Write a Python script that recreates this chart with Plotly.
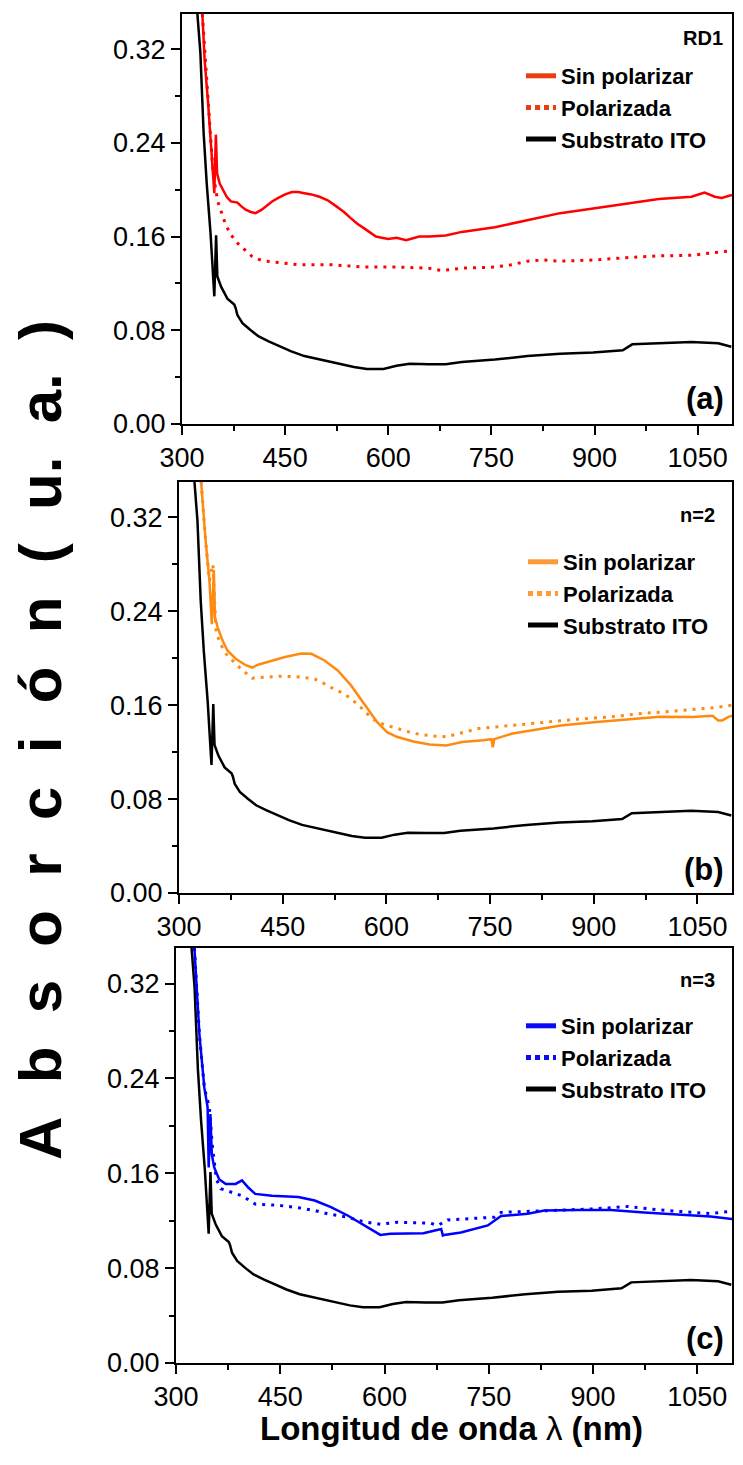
import plotly.graph_objects as go

# ---------------- data ----------------
# ITO substrate (same curve in the three panels)
ito_x = [322.4, 326.7, 331.5, 336, 341.5, 344, 347, 349.6, 351.4, 357, 366, 376, 378, 380.6, 388, 400,
         411.6, 426, 442.6, 459, 478, 502, 526, 550, 569, 593, 612, 631, 659, 683.5, 707, 755, 802.5,
         850, 898, 941, 955, 993.6, 1041, 1080, 1099]
ito_y = [0.35, 0.317, 0.248, 0.205, 0.163, 0.134, 0.109, 0.161, 0.126, 0.117, 0.107, 0.102, 0.099, 0.093,
         0.086, 0.080, 0.0747, 0.0705, 0.066, 0.062, 0.058, 0.055, 0.0514, 0.0486, 0.047, 0.047, 0.0497,
         0.0514, 0.051, 0.051, 0.053, 0.055, 0.058, 0.060, 0.061, 0.063, 0.068, 0.069, 0.070, 0.069, 0.066]

# (a) RD1
rd1_sin_x = [329.6, 333, 337.7, 341, 345, 347, 349.3, 351, 355, 359, 365, 371, 380.6, 386, 392.5, 400, 407,
             416, 425, 431, 440, 450, 460, 469, 478, 488, 500, 512, 524, 535.6, 545, 555, 565, 574, 582,
             590.5, 600, 612, 626, 645, 660, 683.5, 707, 755, 802.5, 850, 898, 946, 993.6, 1041, 1060,
             1075, 1085, 1100]
rd1_sin_y = [0.35, 0.31, 0.276, 0.245, 0.21, 0.197, 0.247, 0.214, 0.205, 0.200, 0.194, 0.190, 0.189, 0.186,
             0.183, 0.181, 0.180, 0.183, 0.187, 0.190, 0.193, 0.196, 0.198, 0.198, 0.197, 0.196, 0.194,
             0.191, 0.186, 0.181, 0.176, 0.171, 0.167, 0.163, 0.160, 0.159, 0.158, 0.159, 0.157, 0.160,
             0.160, 0.161, 0.164, 0.168, 0.174, 0.180, 0.184, 0.188, 0.192, 0.194, 0.1975, 0.194, 0.193,
             0.1955]
rd1_pol_x = [329.6, 337.7, 345, 352, 354.4, 359, 363, 369.6, 378, 385, 391, 402, 416, 435.5, 469, 516.6,
             564, 612, 659, 678, 707, 755, 780, 802.5, 826, 850, 898, 946, 993.6, 1041, 1099]
rd1_pol_y = [0.35, 0.276, 0.215, 0.19, 0.186, 0.178, 0.171, 0.163, 0.156, 0.152, 0.149, 0.143, 0.1395,
             0.138, 0.136, 0.136, 0.134, 0.134, 0.133, 0.131, 0.133, 0.134, 0.136, 0.139, 0.140, 0.139,
             0.140, 0.142, 0.1435, 0.144, 0.148]

# (b) n=2
n2_sin_x = [332, 338.5, 344, 347.5, 350.4, 352, 356, 363, 370, 382, 396.5, 406, 415.5, 434.5, 453.5, 477,
            491.5, 510.6, 529.6, 548.6, 567.6, 586.7, 601, 615, 639, 662.7, 686.5, 709.5, 740, 752, 754,
            756, 781, 805, 852.5, 900, 948, 995.6, 1043, 1072, 1080, 1086, 1095, 1100]
n2_sin_y = [0.35, 0.300, 0.266, 0.229, 0.275, 0.235, 0.226, 0.215, 0.2065, 0.1995, 0.194, 0.192, 0.1946,
            0.198, 0.201, 0.204, 0.2037, 0.198, 0.1895, 0.177, 0.161, 0.1455, 0.137, 0.133, 0.129, 0.1265,
            0.1257, 0.1285, 0.130, 0.131, 0.124, 0.131, 0.1356, 0.138, 0.1427, 0.1455, 0.148, 0.150,
            0.1498, 0.151, 0.147, 0.147, 0.150, 0.151]
n2_pol_x = [332, 338.5, 344, 349, 351, 353.7, 360, 368, 377.5, 392, 406, 425, 449, 472.6, 496, 508, 520,
            539, 558, 572.4, 586.7, 601, 615, 639, 662.7, 686.5, 733, 781, 828.7, 876, 924, 972, 1019,
            1076.7, 1100]
n2_pol_y = [0.35, 0.300, 0.266, 0.28, 0.255, 0.222, 0.212, 0.2037, 0.198, 0.1895, 0.183, 0.184, 0.1847,
            0.184, 0.1824, 0.179, 0.175, 0.1697, 0.161, 0.1526, 0.1455, 0.1427, 0.140, 0.136, 0.134,
            0.133, 0.140, 0.1427, 0.1455, 0.148, 0.150, 0.153, 0.155, 0.158, 0.160]

# (c) n=3
n3_sin_x = [326.5, 333.7, 340.8, 345.5, 347, 349.5, 351.5, 355, 362, 371.6, 385.8, 395, 404, 414, 438, 476,
            499.6, 523, 547, 570.7, 594, 608.6, 627.5, 656, 681.6, 684, 686, 710, 748.6, 758, 767.7, 806,
            830, 878, 925.6, 973.5, 1021, 1069, 1100]
n3_sin_y = [0.35, 0.277, 0.232, 0.2156, 0.165, 0.21, 0.176, 0.165, 0.155, 0.151, 0.151, 0.154, 0.148,
            0.1426, 0.141, 0.140, 0.137, 0.1314, 0.1244, 0.116, 0.108, 0.109, 0.109, 0.1095, 0.113, 0.1075,
            0.108, 0.110, 0.116, 0.120, 0.124, 0.1258, 0.1286, 0.129, 0.129, 0.127, 0.125, 0.1235, 0.1215]
n3_pol_x = [326.5, 333.7, 340.8, 348, 352, 358, 364.5, 381, 395, 414, 447, 476, 499.6, 518.5, 547, 570.7,
            594, 618, 665.5, 676.8, 691, 730, 758, 767.7, 830, 901.7, 949.6, 997, 1069, 1100]
n3_pol_y = [0.35, 0.277, 0.232, 0.2156, 0.185, 0.155, 0.147, 0.144, 0.141, 0.134, 0.133, 0.131, 0.1286,
            0.1258, 0.123, 0.119, 0.117, 0.1187, 0.118, 0.116, 0.1207, 0.122, 0.123, 0.127, 0.1286, 0.130,
            0.132, 0.129, 0.126, 0.128]

panel_tags = ["RD1", "n=2", "n=3"]
panel_letters = ["(a)", "(b)", "(c)"]
legend_names = ["Sin polarizar", "Polarizada", "Substrato ITO"]
x_ticks = [300, 450, 600, 750, 900, 1050]
y_ticks = [0.00, 0.08, 0.16, 0.24, 0.32]

# ---------------- styling ----------------
OFF = 8  # default body margin of the html page
W, H = 743 - 2 * OFF, 1441
FONT = "Liberation Sans"
data_colors = ["#FF0000", "#FF8A10", "#0000FF"]
swatch_colors = ["#EA3E12", "#FF9A38", "#0A0AF5"]
DOT = "3px,6px"

# pixel boxes for each panel (page pixels): (left, right, top, bottom)
boxes = [(182, 732, 14, 424), (179, 732, 482, 893), (176, 732, 948, 1363)]

def px_x(p):
    return (p - OFF) / W

def px_y(p):
    return 1 - (p - OFF) / H

fig = go.Figure()
series = [(rd1_sin_x, rd1_sin_y, rd1_pol_x, rd1_pol_y),
          (n2_sin_x, n2_sin_y, n2_pol_x, n2_pol_y),
          (n3_sin_x, n3_sin_y, n3_pol_x, n3_pol_y)]

legend_pos = [(521, 55), (523, 541), (521, 1005)]

for i, (sx, sy, qx, qy) in enumerate(series):
    xa = "x" if i == 0 else f"x{i+1}"
    ya = "y" if i == 0 else f"y{i+1}"
    lg = "legend" if i == 0 else f"legend{i+1}"
    fig.add_trace(go.Scatter(x=ito_x, y=ito_y, mode="lines", xaxis=xa, yaxis=ya,
                             line=dict(color="black", width=2.5), showlegend=False))
    fig.add_trace(go.Scatter(x=qx, y=qy, mode="lines", xaxis=xa, yaxis=ya,
                             line=dict(color=data_colors[i], width=3, dash=DOT), showlegend=False))
    fig.add_trace(go.Scatter(x=sx, y=sy, mode="lines", xaxis=xa, yaxis=ya,
                             line=dict(color=data_colors[i], width=2.5), showlegend=False))
    # legend entries
    styles = [(swatch_colors[i], "solid"), (swatch_colors[i], "5px,4px"), ("black", "solid")]
    for name, (c, d) in zip(legend_names, styles):
        fig.add_trace(go.Scatter(x=[None], y=[None], mode="lines", xaxis=xa, yaxis=ya,
                                 name=name, legend=lg, line=dict(color=c, width=5, dash=d)))

layout = dict(width=W, height=H, autosize=False,
              margin=dict(l=0, r=0, t=0, b=0, pad=0, autoexpand=False),
              paper_bgcolor="white", plot_bgcolor="white",
              font=dict(family=FONT, color="black"))

axis_common = dict(showline=True, linecolor="black", linewidth=2, mirror=True,
                   ticks="outside", ticklen=9, tickwidth=2, tickcolor="black",
                   showgrid=False, zeroline=False, automargin=False,
                   tickfont=dict(family=FONT, size=27, color="black"))

annotations = []
for i, (l, r, t, b) in enumerate(boxes):
    sfx = "" if i == 0 else str(i + 1)
    layout["xaxis" + sfx] = dict(axis_common, domain=[px_x(l), px_x(r)], range=[300, 1100],
                                 tickmode="array", tickvals=x_ticks,
                                 minor=dict(tickvals=[375, 525, 675, 825, 975], ticks="outside",
                                            ticklen=5, tickwidth=2, tickcolor="black"),
                                 anchor="y" + sfx)
    layout["yaxis" + sfx] = dict(axis_common, domain=[px_y(b), px_y(t)], range=[0, 0.35],
                                 tickmode="array", tickvals=y_ticks, tickformat=".2f",
                                 minor=dict(tickvals=[0.04, 0.12, 0.20, 0.28], ticks="outside",
                                            ticklen=5, tickwidth=2, tickcolor="black"),
                                 anchor="x" + sfx)
    lx, ly = legend_pos[i]
    layout["legend" + sfx] = dict(x=px_x(lx), y=px_y(ly), xanchor="left", yanchor="top",
                                  xref="paper", yref="paper", bgcolor="rgba(0,0,0,0)",
                                  font=dict(family=FONT, size=22, color="black", weight="bold"),
                                  borderwidth=0)
    tag_right = [725, 717, 717][i]
    tag_y = [37.5, 514.5, 979.5][i]
    annotations.append(dict(text=panel_tags[i], x=px_x(tag_right), y=px_y(tag_y), xref="paper",
                            yref="paper", xanchor="right", yanchor="middle", showarrow=False,
                            font=dict(family=FONT, size=20, color="black", weight="bold")))
    let_y = [399, 869, 1338][i]
    annotations.append(dict(text=panel_letters[i], x=px_x(726), y=px_y(let_y), xref="paper",
                            yref="paper", xanchor="right", yanchor="middle", showarrow=False,
                            font=dict(family=FONT, size=31, color="black", weight="bold")))

sp = "\u00a0\u00a0"
ytitle = sp.join(list("Absorción")) + sp + "(" + sp + "u." + sp + "a." + sp + ")"
annotations.append(dict(text=ytitle, x=px_x(40), y=px_y(740), xref="paper", yref="paper",
                        xanchor="center", yanchor="middle", textangle=-90, showarrow=False,
                        font=dict(family=FONT, size=60, color="black", weight="bold")))
annotations.append(dict(text='Longitud de onda <span style="font-weight:normal">λ</span> (nm)',
                        x=px_x(451.5), y=px_y(1428), xref="paper", yref="paper",
                        xanchor="center", yanchor="middle", showarrow=False,
                        font=dict(family=FONT, size=33, color="black", weight="bold")))
layout["annotations"] = annotations

fig.update_layout(**layout)
fig.write_html("out.html")
